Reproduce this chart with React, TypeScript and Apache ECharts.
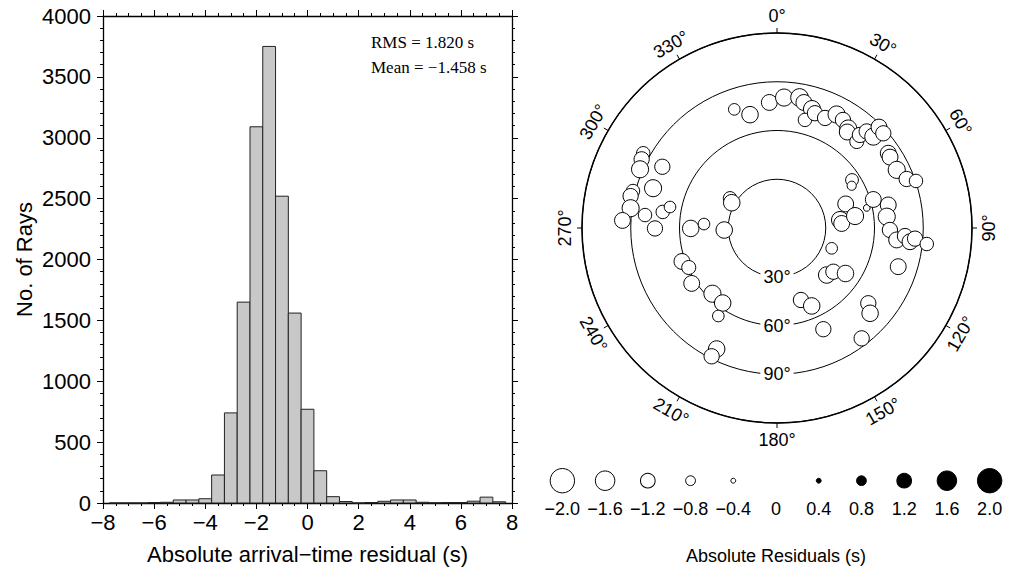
import React, { useEffect, useRef } from "react";
import * as echarts from "echarts";

// ---------- Histogram data ----------
const binCenters = [
  -7.5, -7.0, -6.5, -6.0, -5.5, -5.0, -4.5, -4.0, -3.5, -3.0, -2.5, -2.0, -1.5, -1.0, -0.5,
  0.0, 0.5, 1.0, 1.5, 2.0, 2.5, 3.0, 3.5, 4.0, 4.5, 5.0, 5.5, 6.0, 6.5, 7.0, 7.5,
];
const binCounts = [
  0, 0, 0, 4, 6, 25, 25, 35, 230, 740, 1650, 3090, 3750, 2520, 1560,
  770, 265, 52, 12, 0, 4, 14, 25, 25, 6, 2, 4, 4, 15, 48, 10,
];
const BIN_WIDTH = 0.5;
const rmsText = "RMS = 1.820 s";
const meanText = "Mean = \u22121.458 s";
const histXTitle = "Absolute arrival\u2212time residual (s)";
const histYTitle = "No. of Rays";

// ---------- Polar data: radius (deg), azimuth (deg), residual (s) ----------
const stationRadius = [
  77.6, 71.7, 77.4, 80.4, 81.5, 79.0, 76.3, 68.7, 74.4, 73.9, 78.9, 77.9, 75.3, 73.2, 72.4,
  76.7, 81.1, 81.7, 88.3, 87.6, 82.5, 82.1, 81.9, 85.3, 90.3, 54.8, 52.8,
  44.8, 39.1, 39.9, 48.6, 56.6, 61.8, 69.9, 67.9, 69.5, 74.0, 78.9, 82.3, 85.2, 92.7, 35.9, 78.3,
  42.1, 43.9, 50.6, 46.7, 52.5, 72.8, 77.7, 68.5, 85.6,
  94.3, 93.4, 91.7, 80.0, 80.1, 91.5, 92.2, 90.9, 95.2, 81.6, 71.0, 67.1, 75.1, 53.1, 45.0,
  32.5, 34.2, 31.9,
  62.0, 59.5, 62.6, 56.7, 57.0, 65.1, 83.2, 88.6,
];
const stationAzimuth = [
  340.2, 346.6, 356.5, 3.1, 9.8, 12.1, 16.4, 14.5, 18.3, 23.6, 27.7, 31.4, 35.6, 36.2, 42.7,
  41.7, 42.9, 46.5, 45.3, 48.3, 56.1, 57.9, 64.1, 69.3, 71.3, 57.4, 60.5,
  70.7, 82.8, 86.0, 81.3, 77.4, 73.5, 78.3, 84.1, 91.0, 95.7, 93.6, 95.9, 94.4, 96.1, 110.4, 107.7,
  133.4, 127.8, 123.6, 161.6, 156.0, 129.5, 132.5, 155.4, 142.5,
  299.2, 296.9, 293.2, 298.1, 287.8, 284.4, 282.3, 277.7, 272.8, 275.6, 278.0, 281.1, 269.8, 269.7, 273.1,
  267.8, 302.3, 299.2,
  250.6, 245.9, 237.0, 224.5, 215.9, 213.7, 206.5, 207.0,
];
const stationResidual = [
  -0.95, -1.35, -1.3, -1.4, -1.45, -1.3, -1.4, -1.1, -1.25, -1.25, -1.4, -1.25, -1.4, -1.3, -1.15,
  -1.25, -1.25, -1.4, -1.3, -1.25, -1.3, -1.3, -1.4, -1.25, -1.1, -1.05, -0.75,
  -1.3, -1.4, -1.3, -1.4, -0.55, -1.3, -1.3, -1.4, -1.25, -1.3, -1.25, -1.3, -1.25, -1.1, -0.95, -1.3,
  -1.35, -1.25, -1.35, -1.25, -1.35, -1.25, -1.35, -1.25, -1.25,
  -1.1, -1.25, -1.4, -1.25, -1.4, -1.1, -1.25, -1.4, -1.3, -1.1, -1.1, -0.95, -1.25, -1.35, -0.95,
  -1.35, -1.1, -1.35,
  -1.3, -1.15, -1.3, -1.4, -1.35, -0.95, -1.35, -1.25,
];

const angleTicks = [0, 30, 60, 90, 120, 150, 180, 210, 240, 270, 300, 330];
const ringValues = [30, 60, 90];
const legendValues = [-2.0, -1.6, -1.2, -0.8, -0.4, 0, 0.4, 0.8, 1.2, 1.6, 2.0];
const legendLabels = ["\u22122.0", "\u22121.6", "\u22121.2", "\u22120.8", "\u22120.4", "0", "0.4", "0.8", "1.2", "1.6", "2.0"];
const legendTitle = "Absolute Residuals (s)";

// ---------- layout ----------
const SANS = "'Liberation Sans', Arial, Helvetica, sans-serif";
const SERIF = "'Liberation Serif', 'Times New Roman', serif";
const CX = 777;
const CY = 228;
const R = 195;
const RMAX = 120;
const SIZE_PER_SECOND = 12.2;
const ANGLE_LABEL_R = 212;

const minusFmt = (v: number) => String(v).replace("-", "\u2212");

export default function App() {
  const ref = useRef<HTMLDivElement>(null);
  useEffect(() => {
    if (!ref.current) return;
    const chart = echarts.init(ref.current, undefined, { renderer: "svg" });

    const graphics: any[] = [
      {
        type: "text", x: 371, y: 42, z: 50,
        style: { text: rmsText, font: `17px ${SERIF}`, fill: "#000", align: "left", verticalAlign: "middle" },
      },
      {
        type: "text", x: 371, y: 67, z: 50,
        style: { text: meanText, font: `17px ${SERIF}`, fill: "#000", align: "left", verticalAlign: "middle" },
      },
    ];
    angleTicks.forEach((a) => {
      const rad = (a * Math.PI) / 180;
      let cw = a % 180;
      if (cw >= 90) cw -= 180;
      graphics.push({
        type: "text",
        x: CX + ANGLE_LABEL_R * Math.sin(rad),
        y: CY - ANGLE_LABEL_R * Math.cos(rad),
        rotation: (-cw * Math.PI) / 180,
        z: 50,
        style: { text: `${a}\u00b0`, x: 0, y: 0, font: `18px ${SANS}`, fill: "#000", align: "center", verticalAlign: "middle" },
      });
    });
    ringValues.forEach((v) => {
      graphics.push({
        type: "text",
        x: CX,
        y: CY + (v / RMAX) * R,
        z: 50,
        style: {
          text: `${v}\u00b0`, x: 0, y: 0, font: `18px ${SANS}`, fill: "#000",
          align: "center", verticalAlign: "middle", backgroundColor: "#fff", padding: [0, 3],
        },
      });
    });

    const tickStyle = { color: "#000", width: 1 };
    const histX = (pos: "bottom" | "top", labels: boolean) => ({
      type: "value", gridIndex: 0, position: pos, min: -8, max: 8, interval: 2,
      axisLine: { show: true, onZero: false, lineStyle: { color: "#000", width: 1.3 } },
      axisTick: { show: true, inside: false, length: 6, lineStyle: tickStyle },
      minorTick: { show: true, splitNumber: 4, length: 3, lineStyle: tickStyle },
      splitLine: { show: false },
      axisLabel: { show: labels, formatter: minusFmt, color: "#000", fontSize: 22, fontFamily: SANS, margin: 8 },
      ...(labels
        ? { name: histXTitle, nameLocation: "middle", nameGap: 40, nameTextStyle: { color: "#000", fontSize: 22, fontFamily: SANS } }
        : {}),
    });
    const histY = (pos: "left" | "right", labels: boolean) => ({
      type: "value", gridIndex: 0, position: pos, min: 0, max: 4000, interval: 500,
      axisLine: { show: true, onZero: false, lineStyle: { color: "#000", width: 1.3 } },
      axisTick: { show: true, inside: false, length: 6, lineStyle: tickStyle },
      minorTick: { show: true, splitNumber: 5, length: 3, lineStyle: tickStyle },
      splitLine: { show: false },
      axisLabel: { show: labels, formatter: (v: number) => String(v), color: "#000", fontSize: 22, fontFamily: SANS, margin: 12 },
      ...(labels
        ? { name: histYTitle, nameLocation: "middle", nameGap: 68, nameTextStyle: { color: "#000", fontSize: 22, fontFamily: SANS } }
        : {}),
    });

    chart.setOption({
      animation: false,
      backgroundColor: "#fff",
      grid: [
        { left: 103, top: 16, width: 409, height: 487 },
        { left: 541, top: 470, width: 471, height: 21.4 },
      ],
      xAxis: [
        histX("bottom", true),
        histX("top", false),
        {
          type: "category", gridIndex: 1, data: legendLabels, boundaryGap: true,
          axisLine: { show: false }, axisTick: { show: false }, splitLine: { show: false },
          axisLabel: { color: "#000", fontSize: 18, fontFamily: SANS, margin: 9, interval: 0 },
          name: legendTitle, nameLocation: "middle", nameGap: 56,
          nameTextStyle: { color: "#000", fontSize: 18, fontFamily: SANS },
        },
      ],
      yAxis: [
        histY("left", true),
        histY("right", false),
        { type: "value", gridIndex: 1, min: 0, max: 1, show: false },
      ],
      polar: { center: [CX, CY], radius: R },
      angleAxis: {
        type: "value", min: 0, max: 360, interval: 30, startAngle: 90, clockwise: true,
        axisLine: { show: true, lineStyle: { color: "#000", width: 1.5 } },
        axisTick: { show: true, inside: false, length: 5, lineStyle: tickStyle },
        axisLabel: { show: false },
        splitLine: { show: false },
      },
      radiusAxis: {
        type: "value", min: 0, max: RMAX, interval: 30,
        axisLine: { show: false }, axisTick: { show: false }, axisLabel: { show: false },
        splitLine: { show: true, lineStyle: { color: "#000", width: 1 } },
      },
      graphic: graphics,
      series: [
        {
          type: "custom",
          xAxisIndex: 0,
          yAxisIndex: 0,
          data: binCenters.map((c, i) => [c, binCounts[i]]),
          renderItem: (params: any, api: any) => {
            const c = api.value(0);
            const n = api.value(1);
            const p1 = api.coord([c - BIN_WIDTH / 2, n]);
            const p2 = api.coord([c + BIN_WIDTH / 2, 0]);
            return {
              type: "rect",
              shape: { x: p1[0], y: p1[1], width: p2[0] - p1[0], height: p2[1] - p1[1] },
              style: { fill: "#c8c8c8", stroke: "#222", lineWidth: 1 },
            };
          },
        },
        {
          type: "scatter",
          coordinateSystem: "polar",
          data: stationRadius.map((r, i) => [r, stationAzimuth[i], stationResidual[i]]),
          symbol: "circle",
          symbolSize: (v: number[]) => Math.abs(v[2]) * SIZE_PER_SECOND,
          itemStyle: {
            color: (p: any) => (p.value[2] > 0 ? "#000" : "#fff"),
            borderColor: "#000",
            borderWidth: 1,
            opacity: 1,
          },
          z: 5,
        },
        {
          type: "scatter",
          xAxisIndex: 2,
          yAxisIndex: 2,
          data: legendValues.map((v, i) => [i, 0.5, v]),
          symbol: "circle",
          symbolSize: (v: number[]) => Math.abs(v[2]) * SIZE_PER_SECOND,
          itemStyle: {
            color: (p: any) => (p.value[2] > 0 ? "#000" : "#fff"),
            borderColor: "#000",
            borderWidth: 1,
            opacity: 1,
          },
        },
      ],
    });
    return () => chart.dispose();
  }, []);
  return <div ref={ref} style={{ position: "fixed", left: 0, top: 0, width: 1011, height: 571 }} />;
}
